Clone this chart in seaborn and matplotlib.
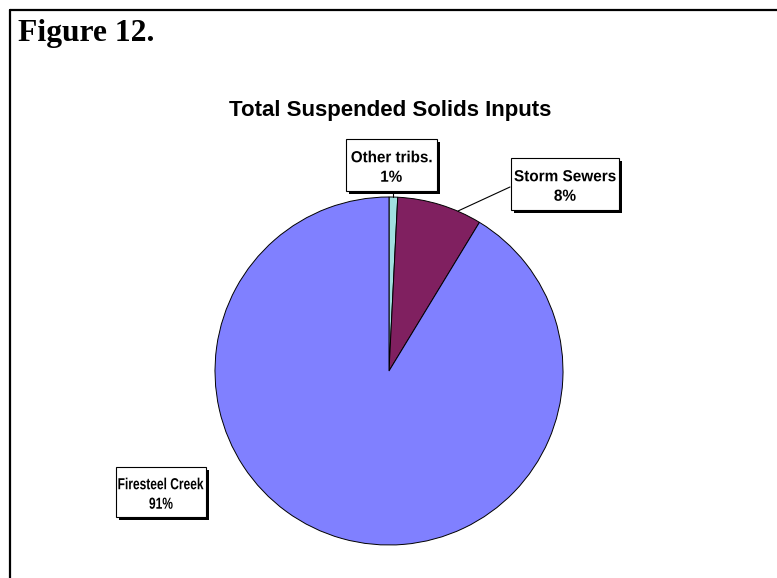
import matplotlib
matplotlib.use("Agg")
import matplotlib.pyplot as plt
import matplotlib.patheffects as pe
from matplotlib.lines import Line2D
from matplotlib.patches import Rectangle, PathPatch
from matplotlib.textpath import TextPath
from matplotlib.font_manager import FontProperties
from matplotlib.transforms import Affine2D
import seaborn as sns

# data (clockwise from 12 o'clock)
sources = ["Other tribs.", "Storm Sewers", "Firesteel Creek"]
shares = [0.8, 7.9, 91.3]
pct_labels = ["1%", "8%", "91%"]
colors = ["#A0E0E0", "#802060", "#8080FF"]

sns.set_theme(style="white")
plt.rcParams['font.family'] = ['Liberation Sans', 'DejaVu Sans']
plt.rcParams['text.color'] = 'black'

W, H = 777, 578
CX, CY, R = 389, 371, 174


def to_data(px, py):
    # pixel position -> pie axes data coords
    return (px - CX) / R, (CY - py) / R


fig = plt.figure(figsize=(7.77, 5.78), dpi=100)
fig.patch.set_facecolor("white")

ax = fig.add_axes([(CX - R)/W, (H - CY - R)/H, 2*R/W, 2*R/H])
ax.pie(shares, colors=colors, startangle=90, counterclock=False, radius=1,
       wedgeprops=dict(edgecolor="black", linewidth=0.7))
ax.set_xlim(-1, 1)
ax.set_ylim(-1, 1)
ax.set_aspect("equal")
ax.axis("off")

fp = FontProperties(family="Liberation Sans", weight="bold")
fs_px = 11.5 * 100 / 72
cap = 0.716 * fs_px


def squeezed_line(s, px, py, sx):
    # draw one text line as a path, horizontally condensed like the original labels
    tp = TextPath((0, 0), s, size=fs_px, prop=fp)
    bb = tp.get_extents()
    tr = (Affine2D().translate(-(bb.x0 + bb.x1) / 2, -cap / 2).scale(sx, 1)
          .scale(1 / R).translate(*to_data(px, py)) + ax.transData)
    ax.add_patch(PathPatch(tp, transform=tr, fc="black", ec="none", lw=0,
                           clip_on=False, zorder=6))


# label boxes (pixel corners) with drop shadow
boxes = [(346, 139, 437, 191), (511, 158, 619, 210), (116, 467, 206, 517)]
squeeze = [0.95, 0.96, 0.75]
for name, pct, (x0, y0, x1, y1), sx in zip(sources, pct_labels, boxes, squeeze):
    dx0, dy0 = to_data(x0, y1)
    dx1, dy1 = to_data(x1, y0)
    rect = Rectangle((dx0, dy0), dx1 - dx0, dy1 - dy0, fc="white", ec="black",
                     lw=0.8, clip_on=False, zorder=5)
    rect.set_path_effects([
        pe.SimplePatchShadow(offset=(2.2, -2.2), shadow_rgbFace="black", alpha=1),
        pe.Normal()])
    ax.add_patch(rect)
    mx, my = (x0 + x1) / 2, (y0 + y1) / 2
    squeezed_line(name, mx, my - 8.5, sx)
    squeezed_line(pct, mx, my + 11, sx)

# leader lines
lx, ly = zip(to_data(458, 211), to_data(510, 187))
ax.plot(lx, ly, color="black", lw=0.8, clip_on=False)
lx, ly = zip(to_data(393, 191), to_data(393, 197))
ax.plot(lx, ly, color="black", lw=0.8, clip_on=False)

fig.text(390.5/W, 1 - 110.5/H, "Total Suspended Solids Inputs", ha="center", va="center",
         fontsize=16, fontweight="bold")
fig.text(18/W, 1 - 33/H, "Figure 12.", ha="left", va="center",
         fontsize=22.8, fontweight="bold", family=["Liberation Serif", "DejaVu Serif"])

# page frame (only top and left edges visible)
fig.add_artist(Line2D([10/W, 1], [1 - 10/H, 1 - 10/H], color="black", lw=1.6))
fig.add_artist(Line2D([10/W, 10/W], [0, 1 - 10/H], color="black", lw=1.6))

fig.savefig("out.png", dpi=100, facecolor="white")
